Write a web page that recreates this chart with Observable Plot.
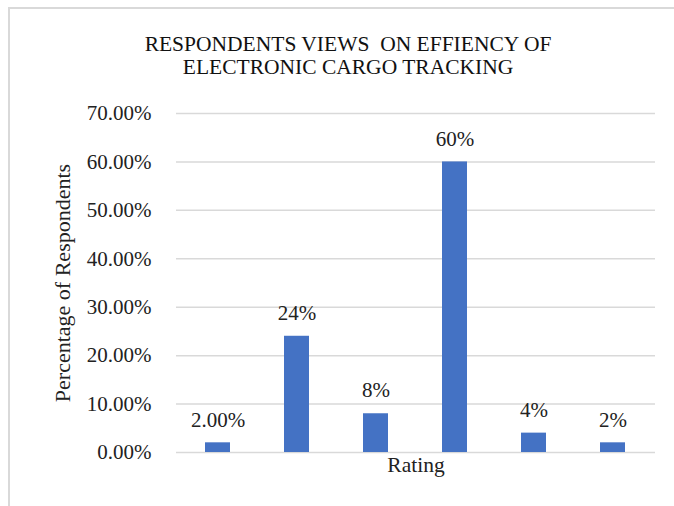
<!DOCTYPE html>
<html>
<head>
<meta charset="utf-8">
<script src="https://cdn.jsdelivr.net/npm/d3@7"></script>
<script src="https://cdn.jsdelivr.net/npm/@observablehq/plot@0.6"></script>
<style>
  html, body { margin: 0; padding: 0; background: #fff; }
  #chart svg { display: block; }
  #chart svg text { font-family: "Liberation Serif", "Times New Roman", serif; }
</style>
</head>
<body>
<div id="chart"></div>
<script>
// Survey results: share of respondents choosing each rating
const ratings = ["1", "2", "3", "4", "5", "6"];
const shares = [0.02, 0.24, 0.08, 0.60, 0.04, 0.02];
const shareLabels = ["2.00%", "24%", "8%", "60%", "4%", "2%"];
const yTicks = [0, 0.1, 0.2, 0.3, 0.4, 0.5, 0.6, 0.7];
const titleLines = ["RESPONDENTS VIEWS  ON EFFIENCY OF", "ELECTRONIC CARGO TRACKING"];

const rows = ratings.map((r, i) => ({rating: r, share: shares[i], label: shareLabels[i]}));

const W = 674, H = 506;
const font = "Liberation Serif";

const chart = Plot.plot({
  width: W,
  height: H,
  marginTop: 113,
  marginBottom: 54,
  marginLeft: 176,
  marginRight: 19,
  style: {fontFamily: font, fontSize: "21px", color: "#222", background: "#fff"},
  x: {domain: ratings, paddingInner: 0.68, paddingOuter: 0.34, axis: null},
  y: {domain: [0, 0.7], axis: null},
  marks: [
    Plot.gridY(yTicks, {stroke: "#d9d9d9", strokeOpacity: 1, strokeWidth: 1.5}),
    Plot.axisY(yTicks, {
      tickFormat: d3.format(".2%"),
      tickSize: 0,
      tickPadding: 25,
      fontSize: 21,
      fontFamily: font,
      fill: "#222",
      label: null
    }),
    Plot.barY(rows, {x: "rating", y: "share", fill: "#4472c4"}),
    Plot.text(rows, {x: "rating", y: "share", text: "label", dy: -23, fontSize: 21, fontFamily: font, fill: "#222"}),
    Plot.text(["Rating"], {frameAnchor: "bottom", dy: 19, fontSize: 21.5, fontFamily: font, fill: "#222"}),
    Plot.text(["Percentage of Respondents"], {
      frameAnchor: "left", textAnchor: "middle", dx: -114, rotate: -90,
      fontSize: 22, fontFamily: font, fill: "#222"
    })
  ]
});

const svg = d3.select(chart);

// Chart-area frame along the top and left edges
svg.append("path")
  .attr("d", `M9,${H} V8 H${W}`)
  .attr("fill", "none")
  .attr("stroke", "#d9d9d9")
  .attr("stroke-width", 2);

// Two-line title
svg.append("g")
  .style("font-family", font)
  .style("font-size", "21.5px")
  .attr("fill", "#111")
  .attr("text-anchor", "middle")
  .selectAll("text")
  .data(titleLines)
  .join("text")
  .attr("x", 348)
  .attr("y", (d, i) => 51 + i * 23)
  .text(d => d);

document.getElementById("chart").append(chart);
</script>
</body>
</html>
